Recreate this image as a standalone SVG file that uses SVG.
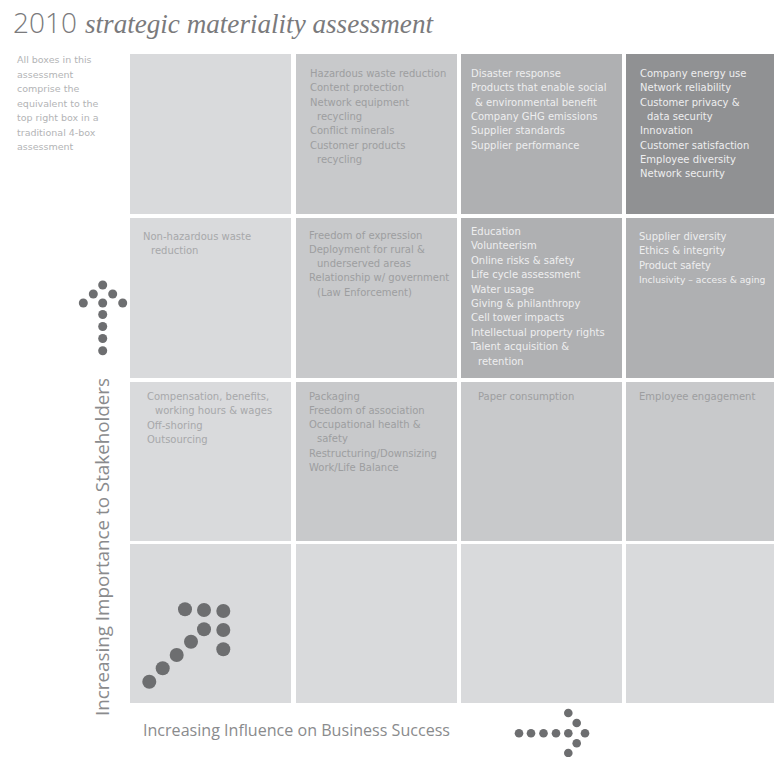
<svg xmlns="http://www.w3.org/2000/svg" width="774" height="757" viewBox="0 0 774 757">
  <style>
    .cell-l { fill: #d9dadc; }
    .cell-m { fill: #c8c9cb; }
    .cell-d { fill: #afb0b2; }
    .cell-x { fill: #909193; }
    .txt { font-family: "DejaVu Sans", "Open Sans", sans-serif; font-size: 10px; }
    .txt-s { font-size: 9.2px; }
    .t-l { fill: #a7a8aa; }
    .t-m { fill: #9d9ea0; }
    .t-w { fill: #eeeeef; }
    .note { font-family: "DejaVu Sans", "Open Sans", sans-serif; font-size: 9.5px; fill: #b3b4b6; }
    .axis { font-family: "Open Sans", "DejaVu Sans", sans-serif; fill: #8a8b8d; }
    .dot { fill: #6d6e70; }
  </style>

  <rect width="774" height="757" fill="#ffffff"/>

  <!-- Title -->
  <g id="title" fill="#7a7a7c">
    <text x="13" y="33" font-family="'Open Sans', sans-serif" font-weight="300" font-size="28">2010</text>
    <text x="85" y="33" font-family="'Liberation Serif', serif" font-style="italic" font-size="28" textLength="348" lengthAdjust="spacingAndGlyphs">strategic materiality assessment</text>
  </g>

  <!-- Side note -->
  <g id="note">
    <text class="note" x="17" y="63">
      <tspan x="17">All boxes in this</tspan>
      <tspan x="17" dy="14.5">assessment</tspan>
      <tspan x="17" dy="14.5">comprise the</tspan>
      <tspan x="17" dy="14.5">equivalent to the</tspan>
      <tspan x="17" dy="14.5">top right box in a</tspan>
      <tspan x="17" dy="14.5">traditional 4-box</tspan>
      <tspan x="17" dy="14.5">assessment</tspan>
    </text>
  </g>

  <!-- Row 1 -->
  <g id="cell-r1c1"><rect class="cell-l" x="130" y="54" width="161" height="160"/></g>
  <g id="cell-r1c2">
    <rect class="cell-m" x="296" y="54" width="161" height="160"/>
    <text class="txt t-m" y="77">
      <tspan x="310">Hazardous waste reduction</tspan>
      <tspan x="310" dy="14.3">Content protection</tspan>
      <tspan x="310" dy="14.3">Network equipment</tspan>
      <tspan x="317" dy="14.3">recycling</tspan>
      <tspan x="310" dy="14.3">Conflict minerals</tspan>
      <tspan x="310" dy="14.3">Customer products</tspan>
      <tspan x="317" dy="14.3">recycling</tspan>
    </text>
  </g>
  <g id="cell-r1c3">
    <rect class="cell-d" x="461" y="54" width="161" height="160"/>
    <text class="txt t-w" y="77">
      <tspan x="471">Disaster response</tspan>
      <tspan x="471" dy="14.3">Products that enable social</tspan>
      <tspan x="475" dy="14.3">&amp; environmental  benefit</tspan>
      <tspan x="471" dy="14.3">Company GHG emissions</tspan>
      <tspan x="471" dy="14.3">Supplier standards</tspan>
      <tspan x="471" dy="14.3">Supplier performance</tspan>
    </text>
  </g>
  <g id="cell-r1c4">
    <rect class="cell-x" x="626" y="54" width="161" height="160"/>
    <text class="txt t-w" y="77">
      <tspan x="640">Company energy use</tspan>
      <tspan x="640" dy="14.3">Network reliability</tspan>
      <tspan x="640" dy="14.3">Customer privacy &amp;</tspan>
      <tspan x="647" dy="14.3">data security</tspan>
      <tspan x="640" dy="14.3">Innovation</tspan>
      <tspan x="640" dy="14.3">Customer satisfaction</tspan>
      <tspan x="640" dy="14.3">Employee diversity</tspan>
      <tspan x="640" dy="14.3">Network security</tspan>
    </text>
  </g>

  <!-- Row 2 -->
  <g id="cell-r2c1">
    <rect class="cell-l" x="130" y="218" width="161" height="160"/>
    <text class="txt t-l" y="240">
      <tspan x="143">Non-hazardous waste</tspan>
      <tspan x="151" dy="14.3">reduction</tspan>
    </text>
  </g>
  <g id="cell-r2c2">
    <rect class="cell-m" x="296" y="218" width="161" height="160"/>
    <text class="txt t-m" y="238.5">
      <tspan x="309">Freedom of expression</tspan>
      <tspan x="309" dy="14.3">Deployment for rural &amp;</tspan>
      <tspan x="317" dy="14.3">underserved areas</tspan>
      <tspan x="309" dy="14.3">Relationship w/ government</tspan>
      <tspan x="317" dy="14.3">(Law Enforcement)</tspan>
    </text>
  </g>
  <g id="cell-r2c3">
    <rect class="cell-d" x="461" y="218" width="161" height="160"/>
    <text class="txt t-w" y="235">
      <tspan x="471">Education</tspan>
      <tspan x="471" dy="14.4">Volunteerism</tspan>
      <tspan x="471" dy="14.4">Online risks &amp; safety</tspan>
      <tspan x="471" dy="14.4">Life cycle assessment</tspan>
      <tspan x="471" dy="14.4">Water usage</tspan>
      <tspan x="471" dy="14.4">Giving &amp; philanthropy</tspan>
      <tspan x="471" dy="14.4">Cell tower impacts</tspan>
      <tspan x="471" dy="14.4">Intellectual property rights</tspan>
      <tspan x="471" dy="14.4">Talent acquisition &amp;</tspan>
      <tspan x="478" dy="14.4">retention</tspan>
    </text>
  </g>
  <g id="cell-r2c4">
    <rect class="cell-d" x="626" y="218" width="161" height="160"/>
    <text class="txt t-w" y="240">
      <tspan x="639">Supplier diversity</tspan>
      <tspan x="639" dy="14.3">Ethics &amp; integrity</tspan>
      <tspan x="639" dy="14.3">Product safety</tspan>
    </text>
    <!-- longest line set a little smaller to stay inside the right edge -->
    <text class="txt txt-s t-w" x="639" y="282.9">Inclusivity – access &amp; aging</text>
  </g>

  <!-- Row 3 -->
  <g id="cell-r3c1">
    <rect class="cell-l" x="130" y="382" width="161" height="159"/>
    <text class="txt t-l" y="400">
      <tspan x="147">Compensation, benefits,</tspan>
      <tspan x="155" dy="14.3">working hours &amp; wages</tspan>
      <tspan x="147" dy="14.3">Off-shoring</tspan>
      <tspan x="147" dy="14.3">Outsourcing</tspan>
    </text>
  </g>
  <g id="cell-r3c2">
    <rect class="cell-m" x="296" y="382" width="161" height="159"/>
    <text class="txt t-m" y="399.5">
      <tspan x="309">Packaging</tspan>
      <tspan x="309" dy="14.3">Freedom of association</tspan>
      <tspan x="309" dy="14.3">Occupational health &amp;</tspan>
      <tspan x="317" dy="14.3">safety</tspan>
      <tspan x="309" dy="14.3">Restructuring/Downsizing</tspan>
      <tspan x="309" dy="14.3">Work/Life Balance</tspan>
    </text>
  </g>
  <g id="cell-r3c3">
    <rect class="cell-m" x="461" y="382" width="161" height="159"/>
    <text class="txt t-m" x="478" y="400">Paper consumption</text>
  </g>
  <g id="cell-r3c4">
    <rect class="cell-m" x="626" y="382" width="161" height="159"/>
    <text class="txt t-m" x="639" y="400">Employee engagement</text>
  </g>

  <!-- Row 4 -->
  <g id="cell-r4c1"><rect class="cell-l" x="130" y="544" width="161" height="159"/></g>
  <g id="cell-r4c2"><rect class="cell-l" x="296" y="544" width="161" height="159"/></g>
  <g id="cell-r4c3"><rect class="cell-l" x="461" y="544" width="161" height="159"/></g>
  <g id="cell-r4c4"><rect class="cell-l" x="626" y="544" width="161" height="159"/></g>

  <!-- Axis labels -->
  <g id="axis-labels">
    <text class="axis" font-size="18.5" transform="translate(109 716) rotate(-90)" textLength="338" lengthAdjust="spacingAndGlyphs">Increasing Importance to Stakeholders</text>
    <text class="axis" font-size="16" x="143" y="736" textLength="307" lengthAdjust="spacingAndGlyphs">Increasing Influence on Business Success</text>
  </g>

  <!-- Dotted arrows -->
  <g id="arrows">
    <!-- up -->
    <g class="dot">
      <circle cx="102.7" cy="285" r="4.5"/>
      <circle cx="93.3" cy="294" r="4.5"/>
      <circle cx="112.7" cy="294" r="4.5"/>
      <circle cx="83.3" cy="303" r="4.5"/>
      <circle cx="102.7" cy="303" r="4.5"/>
      <circle cx="122.7" cy="303" r="4.5"/>
      <circle cx="102.7" cy="314.5" r="4.5"/>
      <circle cx="102.7" cy="326.5" r="4.5"/>
      <circle cx="102.7" cy="338.5" r="4.5"/>
      <circle cx="102.7" cy="350.7" r="4.5"/>
    </g>
    <!-- diagonal -->
    <g class="dot">
      <circle cx="185" cy="609.3" r="7"/>
      <circle cx="204" cy="610" r="7"/>
      <circle cx="223.3" cy="611" r="7"/>
      <circle cx="204" cy="629.3" r="7"/>
      <circle cx="223.3" cy="630" r="7"/>
      <circle cx="223.3" cy="649.3" r="7"/>
      <circle cx="191" cy="641.7" r="7"/>
      <circle cx="176.7" cy="655" r="7"/>
      <circle cx="162.7" cy="668.3" r="7"/>
      <circle cx="149.3" cy="681.7" r="7"/>
    </g>
    <!-- right -->
    <g class="dot">
      <circle cx="519" cy="733.3" r="4.3"/>
      <circle cx="531" cy="733.3" r="4.3"/>
      <circle cx="543.5" cy="733.3" r="4.3"/>
      <circle cx="556" cy="733.3" r="4.3"/>
      <circle cx="568.3" cy="733.3" r="4.3"/>
      <circle cx="568.3" cy="713" r="4.3"/>
      <circle cx="568.3" cy="753" r="4.3"/>
      <circle cx="576.7" cy="723" r="4.3"/>
      <circle cx="576.7" cy="743.3" r="4.3"/>
      <circle cx="585" cy="733.3" r="4.3"/>
    </g>
  </g>
</svg>
